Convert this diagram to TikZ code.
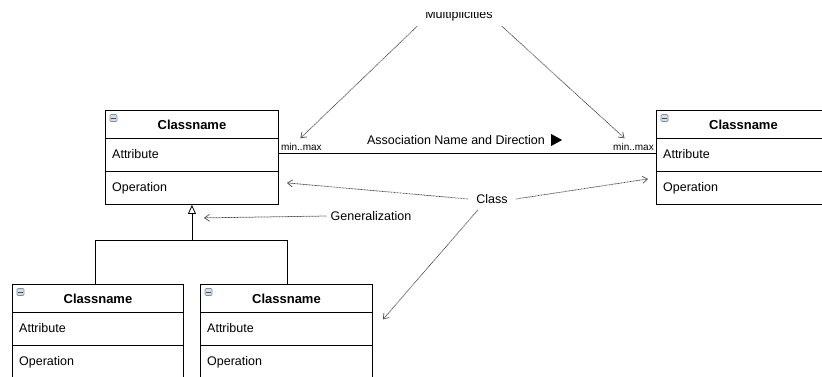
\documentclass[tikz,border=0pt]{standalone}
\usepackage{fontspec}
\setmainfont{Liberation Sans}
\usetikzlibrary{arrows.meta,calc}

\definecolor{iconfill}{HTML}{D5DEE8}
\definecolor{iconline}{HTML}{7F8E9C}
\definecolor{pointgray}{HTML}{4A4A4A}

% A UML class box: name, x, y (top-left corner), width
\newcommand\umlclass[4]{%
  \node[classbox,minimum width=#4pt] (#1) at (#2,#3) {};
  \draw[link] ($(#1.north west)+(0,28.5)$) -- ($(#1.north east)+(0,28.5)$);
  \draw[link] ($(#1.north west)+(0,61)$) -- ($(#1.north east)+(0,61)$);
  \node[icon] (#1-icon) at ($(#1.north west)+(8.5,8)$) {};
  \draw[black!70,line width=0.9pt] ($(#1-icon.west)+(1.3,0)$) -- ($(#1-icon.east)+(-1.3,0)$);
  \node[hdr] (#1-name) at ($(#1.north)+(0,15)$) {Classname};
  \node[item] (#1-attr) at ($(#1.north west)+(7,44.5)$) {Attribute};
  \node[item] (#1-op) at ($(#1.north west)+(7,78.5)$) {Operation};
}

\begin{document}
\begin{tikzpicture}[x=1pt,y=-1pt,
  classbox/.style={draw=black,line width=0.9pt,inner sep=0,anchor=north west,minimum height=94pt},
  link/.style={draw=black,line width=0.9pt},
  icon/.style={draw=iconline,fill=iconfill,line width=0.6pt,minimum size=7pt,inner sep=0,rounded corners=1pt},
  hdr/.style={font=\fontsize{13}{15}\selectfont\bfseries,inner sep=0},
  item/.style={font=\fontsize{12.5}{15}\selectfont,anchor=west,inner sep=0},
  mult/.style={font=\fontsize{10}{12}\selectfont,inner sep=0},
  note/.style={font=\fontsize{12.5}{15}\selectfont,inner sep=0},
  pointer/.style={draw=pointgray,line width=0.75pt,dash pattern=on 0.9pt off 0.6pt,
    -{Straight Barb[length=5pt,width=7pt,line width=0.7pt]}}]

\useasboundingbox (0,0) rectangle (822,376);
\clip (0,0) rectangle (822,376);

% classes
\umlclass{tl}{105}{110}{173}
\umlclass{tr}{656}{110}{174}
\umlclass{bl}{12}{284}{171}
\umlclass{br}{200}{284}{172}

% association between the two upper classes
\coordinate (a1) at ($(tl.north east)+(0,43)$);
\coordinate (a2) at ($(tr.north west)+(0,43)$);
\draw[link] (a1) -- (a2);
\node[mult,anchor=south west] (m1) at ($(a1)+(2,-2)$) {min..max};
\node[mult,anchor=south east] (m2) at ($(a2)+(-2,-2)$) {min..max};
\node[note] (assoc) at (456,140) {Association Name and Direction};
\fill (assoc.east) ++(6,-6) -- ++(11,6) -- ++(-11,6) -- cycle;

% generalization tree
\coordinate (j) at ($(tl.south)+(0,36)$);
\coordinate (jl) at (95,0);
\coordinate (jr) at (287,0);
\draw[link] (jl |- bl.north) -- (jl |- j) -- (jr |- j) -- (jr |- br.north);
\draw[link,-{Triangle[open,length=9pt,width=8pt,line width=0.8pt]}] (j) -- (tl.south);

% annotations
\begin{scope}
  \clip (380,12) rectangle (540,40);
  \node[note,anchor=base] (multi) at (459,18.5) {Multiplicities};
\end{scope}
\node[note] (cls) at (492,199) {Class};
\node[note] (gen) at (371,216) {Generalization};

\draw[pointer] ($(multi.south west)+(-8,5)$) -- ($(m1.north)+(-1,-5)$);
\draw[pointer] ($(multi.south east)+(9,5)$) -- ($(m2.north)+(-9,-5)$);
\draw[pointer] ($(cls.west)+(-8,0)$) -- ($(tl.south east)+(8,-22)$);
\draw[pointer] ($(cls.east)+(8,0)$) -- ($(tr.south west)+(-8,-26)$);
\draw[pointer] ($(cls.south)+(-14,6)$) -- ($(br.east)+(10,-12)$);
\draw[pointer] ($(gen.west)+(-4,0)$) -- ($(tl.south)+(12,13)$);

\end{tikzpicture}
\end{document}
